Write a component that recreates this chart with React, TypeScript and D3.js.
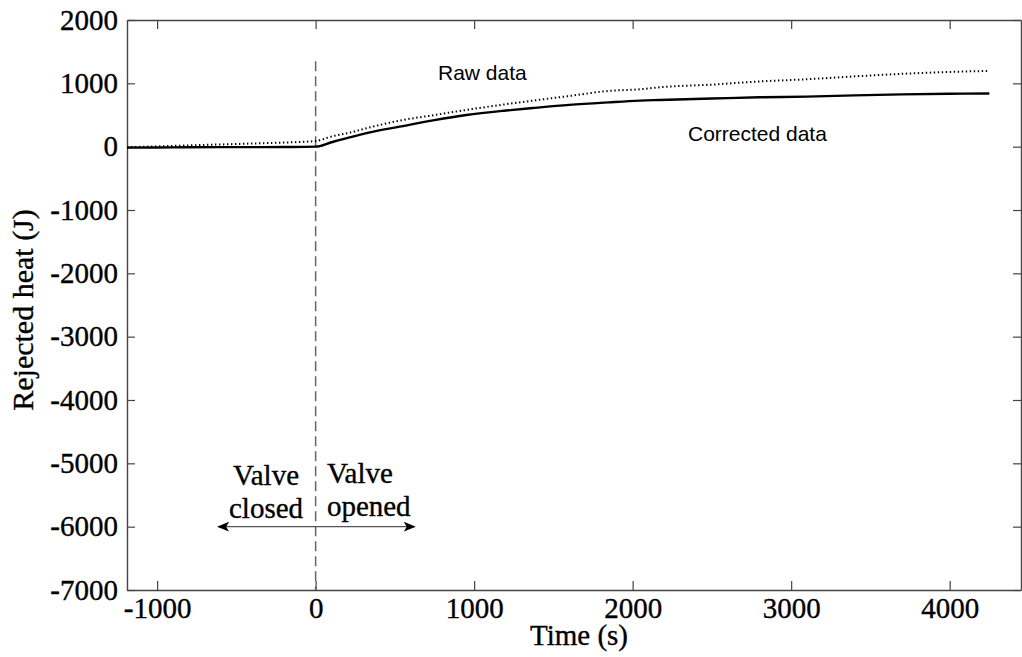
import * as d3 from "d3";
import { useEffect, useRef } from "react";

// time axis (s)
const timeValues = [
  -1190, -1000, -800, -600, -400, -200, 0, 100, 215, 350, 530, 750, 951, 1200,
  1370, 1600, 1850, 2044, 2170, 2500, 2800, 3096, 3400, 3700, 4000, 4250,
];
// rejected heat (J)
const correctedValues = [
  -15, -12, -10, -8, -8, -5, 0, 70, 148, 230, 316, 420, 500, 570, 610, 660,
  700, 727, 738, 760, 780, 790, 810, 825, 835, 840,
];
const rawValues = [
  -10, 5, 20, 35, 50, 65, 90, 160, 221, 310, 411, 500, 580, 670, 727, 800,
  880, 906, 938, 980, 1030, 1064, 1110, 1150, 1180, 1196,
];

const xTickValues = [-1000, 0, 1000, 2000, 3000, 4000];
const yTickValues = [2000, 1000, 0, -1000, -2000, -3000, -4000, -5000, -6000, -7000];

const valveTime = 0;
const valveLineTop = 1350;
const arrowLevel = -6000;
const arrowFrom = -615;
const arrowTo = 625;

const serifLabels = [
  { text: "Valve", t: -313, q: -5342, anchor: "middle" },
  { text: "closed", t: -313, q: -5863, anchor: "middle" },
  { text: "Valve", t: 71, q: -5310, anchor: "start" },
  { text: "opened", t: 71, q: -5832, anchor: "start" },
];
const seriesLabels = [
  { text: "Raw data", t: 772, q: 1053 },
  { text: "Corrected data", t: 2349, q: 94 },
];

const W = 1022;
const H = 657;
const left = 127;
const right = 1021;
const top = 20;
const bottom = 590;
const serif = "'Liberation Serif', 'Times New Roman', serif";
const sans = "'Liberation Sans', Arial, sans-serif";

export default function App() {
  const ref = useRef<SVGSVGElement>(null);

  useEffect(() => {
    const svg = d3.select(ref.current);
    svg.selectAll("*").remove();

    const x = d3.scaleLinear().domain([-1190, 4450]).range([left, right]);
    const y = d3.scaleLinear().domain([-7000, 2000]).range([bottom, top]);
    const fmt = (d: d3.NumberValue) => String(d);

    const styleAxis = (g: any) => {
      g.attr("font-family", serif).attr("font-size", 29);
      g.select(".domain").attr("stroke", "#444").attr("stroke-width", 1.4);
      g.selectAll(".tick line").attr("stroke", "#444").attr("stroke-width", 1.2);
      g.selectAll(".tick text")
        .attr("fill", "#000")
        .attr("stroke", "#000")
        .attr("stroke-width", 0.35)
        .style("font-family", serif)
        .style("font-size", "29px");
    };

    svg.append("g")
      .attr("transform", `translate(0,${bottom})`)
      .call(d3.axisBottom(x).tickValues(xTickValues).tickFormat(fmt).tickSize(-9).tickSizeOuter(0).tickPadding(7.5))
      .call(styleAxis);
    svg.append("g")
      .attr("transform", `translate(0,${top})`)
      .call(d3.axisTop(x).tickValues(xTickValues).tickFormat(() => "").tickSize(-9).tickSizeOuter(0))
      .call(styleAxis);
    svg.append("g")
      .attr("transform", `translate(${left},0)`)
      .call(d3.axisLeft(y).tickValues(yTickValues).tickFormat(fmt).tickSize(-8).tickSizeOuter(0).tickPadding(9))
      .call(styleAxis);
    svg.append("g")
      .attr("transform", `translate(${right},0)`)
      .call(d3.axisRight(y).tickValues(yTickValues).tickFormat(() => "").tickSize(-8).tickSizeOuter(0))
      .call(styleAxis);

    // axis titles
    svg.append("text")
      .attr("x", (left + right) / 2 + 5)
      .attr("y", 645)
      .attr("text-anchor", "middle")
      .attr("stroke", "#000")
      .attr("stroke-width", 0.35)
      .style("font-family", serif)
      .style("font-size", "29px")
      .text("Time (s)");
    svg.append("text")
      .attr("transform", `translate(33,${310}) rotate(-90)`)
      .attr("text-anchor", "middle")
      .attr("stroke", "#000")
      .attr("stroke-width", 0.35)
      .style("font-family", serif)
      .style("font-size", "30px")
      .text("Rejected heat (J)");

    // valve line
    svg.append("line")
      .attr("x1", x(valveTime)).attr("x2", x(valveTime))
      .attr("y1", y(valveLineTop)).attr("y2", y(-7000))
      .attr("stroke", "#666")
      .attr("stroke-width", 1.5)
      .attr("stroke-dasharray", "10,5");

    const idx = d3.range(timeValues.length);
    const line = (vals: number[]) =>
      d3.line<number>()
        .x((i) => x(timeValues[i]))
        .y((i) => y(vals[i]))
        .curve(d3.curveMonotoneX)(idx);

    svg.append("path")
      .attr("d", line(correctedValues))
      .attr("fill", "none")
      .attr("stroke", "#000")
      .attr("stroke-width", 2.4);
    svg.append("path")
      .attr("d", line(rawValues))
      .attr("fill", "none")
      .attr("stroke", "#000")
      .attr("stroke-width", 2)
      .attr("stroke-dasharray", "1.4,2.6");

    // arrow
    const defs = svg.append("defs");
    const mk = (id: string, orient: string) =>
      defs.append("marker")
        .attr("id", id)
        .attr("viewBox", "0 0 12 10")
        .attr("refX", 11)
        .attr("refY", 5)
        .attr("markerWidth", 12)
        .attr("markerHeight", 10)
        .attr("markerUnits", "userSpaceOnUse")
        .attr("orient", orient)
        .append("path")
        .attr("d", "M0,0 L12,5 L0,10 L3,5 Z")
        .attr("fill", "#000");
    mk("arrow-end", "auto");
    mk("arrow-start", "auto-start-reverse");
    svg.append("line")
      .attr("x1", x(arrowFrom)).attr("x2", x(arrowTo))
      .attr("y1", y(arrowLevel)).attr("y2", y(arrowLevel))
      .attr("stroke", "#555")
      .attr("stroke-width", 1.4)
      .attr("marker-start", "url(#arrow-start)")
      .attr("marker-end", "url(#arrow-end)");

    svg.selectAll("text.valve")
      .data(serifLabels)
      .enter()
      .append("text")
      .attr("class", "valve")
      .attr("x", (d) => x(d.t))
      .attr("y", (d) => y(d.q))
      .attr("text-anchor", (d) => d.anchor)
      .attr("stroke", "#000")
      .attr("stroke-width", 0.35)
      .style("font-family", serif)
      .style("font-size", "29px")
      .text((d) => d.text);

    svg.selectAll("text.series")
      .data(seriesLabels)
      .enter()
      .append("text")
      .attr("class", "series")
      .attr("x", (d) => x(d.t))
      .attr("y", (d) => y(d.q))
      .style("font-family", sans)
      .style("font-size", "21px")
      .text((d) => d.text);
  }, []);

  return (
    <svg
      ref={ref}
      width={W}
      height={H}
      style={{ position: "absolute", left: 0, top: 0, background: "#fff" }}
    />
  );
}
